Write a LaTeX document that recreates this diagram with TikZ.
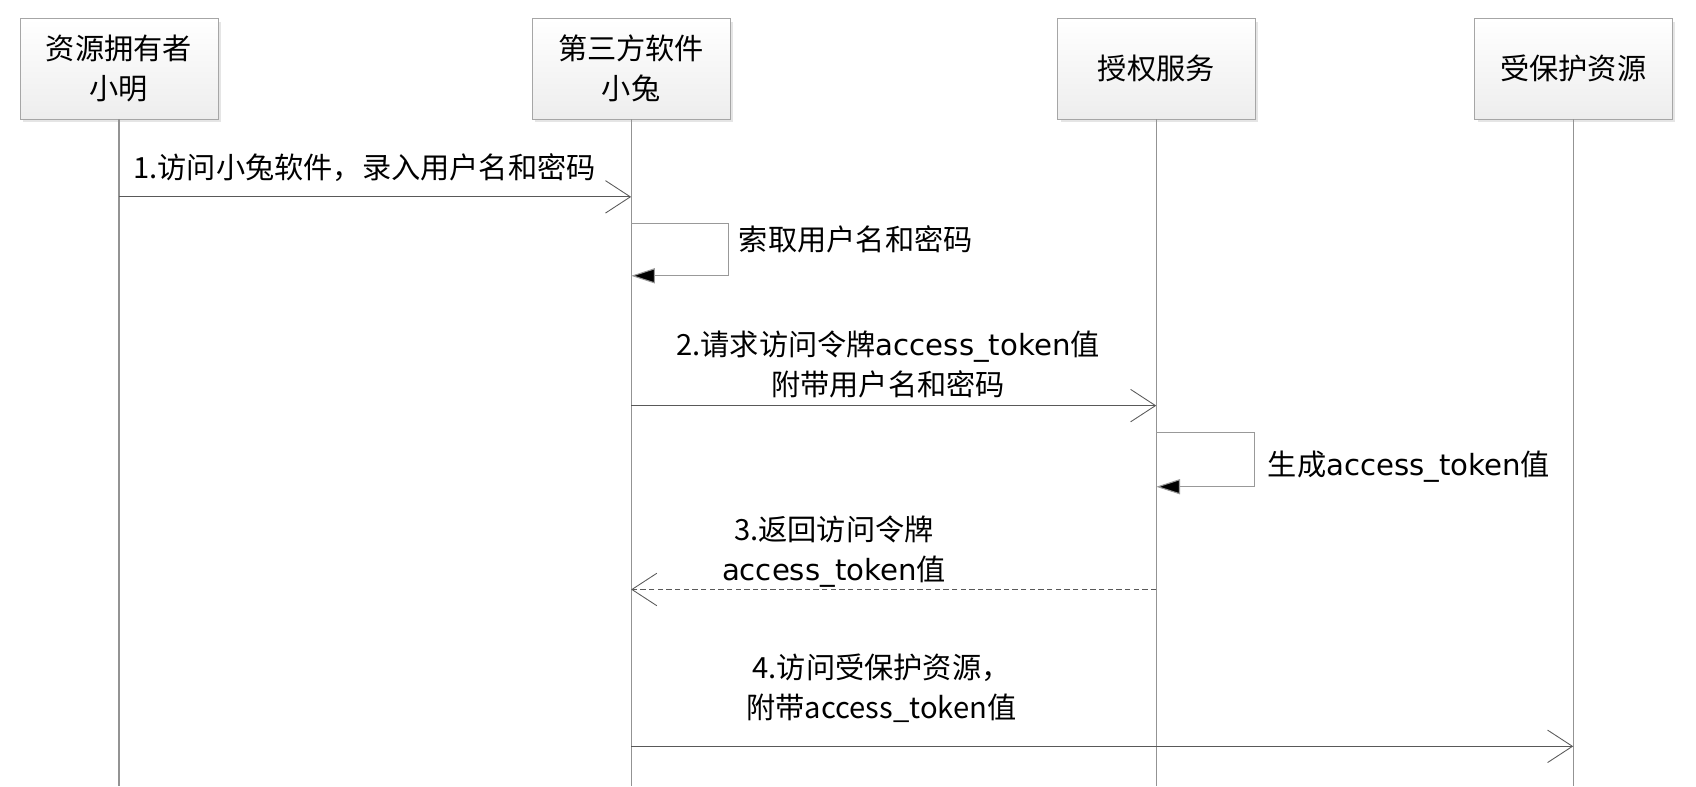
\documentclass[tikz,border=0pt]{standalone}
\usepackage{fontspec}
\setmainfont{Noto Sans CJK SC}
\newfontfamily\latinfont{DejaVu Sans}
\usetikzlibrary{arrows.meta,shadows}

\newcommand{\tok}{{\latinfont access\_token}}

\tikzset{
  actor/.style={draw=gray!70, top color=white, bottom color=gray!14,
    minimum width=183pt, minimum height=93pt, align=center, inner sep=0pt,
    drop shadow={shadow xshift=3pt, shadow yshift=-3pt, fill=gray!40, opacity=.5}},
  lifeline/.style={draw=gray!85, line width=1pt},
  msg/.style={draw=gray!70!black, line width=1pt,
    -{Straight Barb[length=23pt, width=30pt, line width=0.8pt]}},
  selfmsg/.style={draw=gray!80, line width=1pt,
    -{Triangle[length=22pt, width=14pt, fill=black]}},
  reply/.style={msg, dash pattern=on 5pt off 3pt},
  lbl/.style={align=center, inner sep=0pt},
}

\begin{document}
\begin{tikzpicture}[x=1pt, y=-1pt, font=\fontsize{27}{37}\selectfont]
  \useasboundingbox (0,0) rectangle (1568,727);
  % los cuatro participantes, con su linea de vida hacia abajo
  \node[actor] (owner)  at (110,63.5)    {资源拥有者\\小明};
  \node[actor] (client) at (583.5,63.5)  {第三方软件\\小兔};
  \node[actor] (auth)   at (1069,63.5)   {授权服务};
  \node[actor] (res)    at (1454.5,63.5) {受保护资源};
  \coordinate (owner-end)  at (110,727);
  \coordinate (client-end) at (583.5,727);
  \coordinate (auth-end)   at (1069,727);
  \coordinate (res-end)    at (1454.5,727);
  \draw[lifeline] (owner) -- (owner-end);
  \draw[lifeline] (client) -- (client-end);
  \draw[lifeline] (auth) -- (auth-end);
  \draw[lifeline] (res) -- (res-end);
  % 1: el propietario entra en el software
  \draw[msg] (owner |- 0,182) -- (client |- 0,182);
  \node[lbl] (m1) at (337,155) {1.访问小兔软件，录入用户名和密码};
  % el software pide usuario y clave (mensaje a si mismo)
  \draw[selfmsg] (client |- 0,207) -- ++(90,0) -- ++(0,48) -- (client |- 0,255);
  \node[lbl, anchor=west] (s1) at (683,221) {索取用户名和密码};
  % 2: peticion del token
  \draw[msg] (client |- 0,375) -- (auth |- 0,375);
  \node[lbl] (m2) at (821,337) {2.请求访问令牌\tok 值\\附带用户名和密码};
  % el servicio genera el token
  \draw[selfmsg] (auth |- 0,400) -- ++(91,0) -- ++(0,50) -- (auth |- 0,450);
  \node[lbl, anchor=west] (s2) at (1172,431) {生成\tok 值};
  % 3: respuesta (discontinua)
  \draw[reply] (auth |- 0,545) -- (client |- 0,545);
  \node[lbl] (m3) at (771,510) {3.返回访问令牌\\\tok 值};
  % 4: acceso al recurso protegido (aqui la letra es mas estrecha)
  \draw[msg] (client |- 0,690) -- (res |- 0,690);
  \node[lbl] (m4) at (815,636) {4.访问受保护资源，\\附带access\_token值};
\end{tikzpicture}
\end{document}
